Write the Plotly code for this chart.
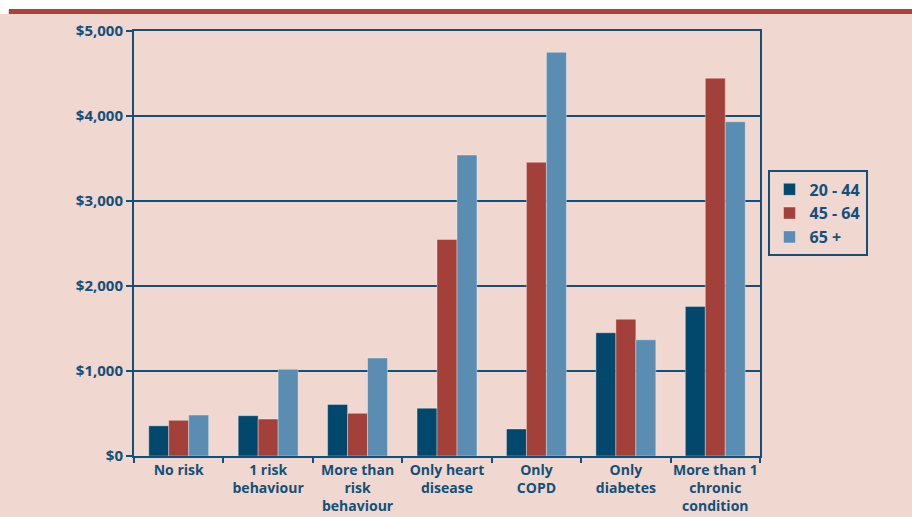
import plotly.graph_objects as go

# Annual health-care cost by risk group and age band
categories = [
    "No risk",
    "1 risk<br>behaviour",
    "More than<br>risk<br>behaviour",
    "Only heart<br>disease",
    "Only<br>COPD",
    "Only<br>diabetes",
    "More than 1<br>chronic<br>condition",
]
age_20_44 = [355, 474, 606, 562, 318, 1450, 1760]
age_45_64 = [420, 435, 502, 2548, 3456, 1609, 4445]
age_65_plus = [482, 1020, 1153, 3541, 4750, 1367, 3932]
series_names = ["20 - 44", "45 - 64", "65 +"]
series_values = [age_20_44, age_45_64, age_65_plus]
series_colors = ["#02476c", "#a3403a", "#5a8db1"]
y_ticks = [0, 1000, 2000, 3000, 4000, 5000]
y_tick_labels = ["$0", "$1,000", "$2,000", "$3,000", "$4,000", "$5,000"]

INK = "#12507a"
BG = "#f0d7d0"
FONT = "Open Sans"

fig = go.Figure()
for name, vals, col in zip(series_names, series_values, series_colors):
    fig.add_trace(go.Bar(
        x=categories, y=vals, name=name, legendgroup=name,
        marker=dict(color=col, line=dict(color="rgba(255,255,255,0.35)", width=1)),
    ))

fig.update_layout(
    width=912, height=517,
    margin=dict(l=134, r=152, t=31, b=61),
    paper_bgcolor=BG, plot_bgcolor=BG,
    barmode="group", bargap=0.33, bargroupgap=0,
    font=dict(family=FONT, size=15, color=INK),
    legend=dict(
        x=1.012, y=0.672, xanchor="left", yanchor="top",
        bgcolor=BG, bordercolor=INK, borderwidth=2,
        font=dict(family=FONT, size=16, color=INK, weight="bold"),
        itemwidth=30, tracegroupgap=0,
    ),
    xaxis=dict(
        type="category", showline=True, linecolor=INK, linewidth=2, mirror=True,
        ticks="outside", tickson="boundaries", ticklen=5, tickwidth=2, tickcolor=INK,
        tickfont=dict(family=FONT, size=14, color=INK, weight="bold"),
        tickangle=0, automargin=False, showgrid=False,
    ),
    yaxis=dict(
        range=[0, 5000], tickvals=y_ticks, ticktext=y_tick_labels,
        showline=True, linecolor=INK, linewidth=2, mirror=True,
        ticks="outside", ticklen=6, tickwidth=2, tickcolor=INK,
        showgrid=True, gridcolor=INK, gridwidth=2, zeroline=False,
        tickfont=dict(family=FONT, size=15, color=INK, weight="bold"),
        ticklabelstandoff=0, automargin=False,
    ),
    shapes=[
        # white page strip above the banner rule
        dict(type="rect", xref="paper", yref="paper",
             x0=-0.22, x1=1.25, y0=1.04, y1=1.08,
             fillcolor="white", line=dict(width=0), layer="below"),
        # red banner rule
        dict(type="rect", xref="paper", yref="paper",
             x0=-0.2, x1=1.25, y0=1.04, y1=1.0518,
             fillcolor="#a8443a", line=dict(width=0)),
    ],
)

fig.write_html("out.html")
